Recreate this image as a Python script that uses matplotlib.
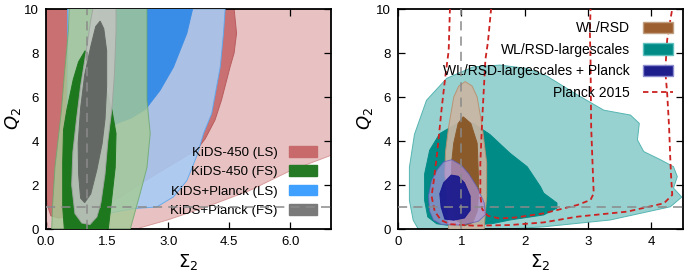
import numpy as np
import matplotlib
matplotlib.use("Agg")
import matplotlib.pyplot as plt
from matplotlib.patches import Rectangle
from matplotlib.lines import Line2D

plt.rcParams['font.family'] = ['Liberation Sans', 'DejaVu Sans']
plt.rcParams['mathtext.fontset'] = 'dejavusans'

# ---- left panel: KiDS contours, (Sigma2, Q2) outline points
kids_ls_95 = [(-1, 12), (8, 12), (8, 3.5), (7.0, 3.35), (6.0, 2.65), (5.0, 1.75), (4.0, 1.05),
              (3.0, 0.42), (2.3, 0.05), (2.1, -0.3), (0.1, -0.3), (0.05, 0.1), (0.0, 0.5), (-1, 0.5)]
kids_ls_68 = [(-1, 11), (4.62, 11), (4.62, 10), (4.68, 8.9), (4.62, 8.0), (4.52, 7.36), (4.31, 5.86),
              (4.15, 4.95), (3.91, 4.1), (3.7, 3.6), (2.47, 2.23), (1.6, 1.2), (1.0, 0.6), (0.3, 0.5),
              (0.12, 0.6), (0.05, 1.0), (0.0, 1.5), (-1, 1.5)]
kids_fs_95 = [(0.59, 11), (2.48, 11), (2.48, 5.86), (2.56, 4.34), (2.48, 2.8), (2.31, 1.6),
              (2.07, 0.0), (2.05, -0.5), (0.14, -0.5), (0.14, 0.0), (0.16, 1.0), (0.22, 2.8),
              (0.38, 5.4), (0.45, 7.0), (0.55, 9.0)]
kids_fs_68 = [(0.96, 8.1), (0.8, 7.6), (0.67, 6.8), (0.51, 5.4), (0.43, 4.5), (0.41, 3.0), (0.41, 1.0),
              (0.45, 0.0), (0.45, -0.5), (1.55, -0.5), (1.53, 0.0), (1.61, 1.3), (1.70, 2.8),
              (1.72, 4.34), (1.62, 5.4), (1.45, 6.6), (1.2, 7.6)]
kp_ls_95 = [(0.53, 11), (4.40, 11), (4.40, 10), (4.36, 8.9), (4.28, 7.37), (4.07, 5.25), (3.87, 4.34),
            (3.7, 3.3), (3.46, 2.2), (3.13, 1.46), (2.72, 1.0), (2.15, 0.93), (1.49, 0.7), (1.16, 0.4),
            (0.88, 0.17), (0.72, 0.5), (0.63, 1.3), (0.51, 4.3), (0.53, 8.0)]
kp_ls_68 = [(1.3, 11), (3.62, 11), (3.6, 10), (3.46, 8.9), (3.13, 7.36), (2.8, 6.3), (2.55, 5.7),
            (2.45, 5.45), (2.1, 5.05), (1.74, 4.8), (1.4, 4.3), (1.3, 4.3)]
kp_fs_95 = [(0.71, 0.7), (0.63, 2.0), (0.66, 3.5), (0.75, 5.0), (0.85, 6.5), (0.98, 8.0), (1.1, 9.5),
            (1.2, 10.5), (1.45, 11), (1.72, 10.5), (1.72, 9.0), (1.68, 7.0), (1.62, 5.5),
            (1.52, 4.0), (1.45, 2.5), (1.35, 1.2), (1.25, 0.55), (1.08, 0.2), (0.88, 0.27)]
kp_fs_68 = [(1.33, 9.45), (1.42, 9.1), (1.49, 8.1), (1.49, 6.5), (1.45, 5.0), (1.38, 3.9), (1.25, 2.7),
            (1.1, 1.6), (0.95, 1.2), (0.85, 1.4), (0.8, 2.5), (0.79, 3.9), (0.85, 5.5), (0.95, 7.0),
            (1.1, 8.3), (1.22, 9.2)]

left_labels = ['KiDS-450 (LS)', 'KiDS-450 (FS)', 'KiDS+Planck (LS)', 'KiDS+Planck (FS)']
left_xticks = [0.0, 1.5, 3.0, 4.5, 6.0]

# ---- right panel
lg_95 = [(0.32, -0.5), (0.32, 0.0), (0.24, 0.4), (0.18, 1.3), (0.18, 2.8), (0.26, 4.3), (0.45, 5.85),
         (0.77, 6.85), (1.19, 7.37), (1.61, 7.45), (2.03, 7.3), (2.35, 6.95), (2.83, 6.1),
         (3.25, 5.4), (3.67, 5.18), (3.81, 4.8), (3.78, 4.05), (3.88, 3.52), (4.15, 3.14),
         (4.35, 2.83), (4.41, 2.38), (4.35, 1.86), (4.48, 1.45), (4.30, 1.01), (3.35, 0.41),
         (2.30, 0.1), (1.72, 0.0), (1.72, -0.5)]
lg_68 = [(1.0, 4.9), (0.66, 4.34), (0.5, 3.58), (0.42, 2.5), (0.42, 1.3), (0.47, 0.55), (0.61, 0.24),
         (0.92, 0.12), (1.5, 0.25), (1.77, 0.41), (2.30, 0.64), (2.51, 0.95), (2.51, 1.18),
         (2.30, 1.63), (2.25, 1.92), (2.04, 2.83), (1.77, 3.44), (1.45, 4.3), (1.19, 4.8)]
wl_95 = [(1.06, 6.7), (0.96, 6.5), (0.88, 6.0), (0.80, 4.65), (0.75, 3.5), (0.74, 2.5), (0.77, 1.5),
         (0.80, 0.0), (0.81, -0.5), (1.34, -0.5), (1.36, 0.0), (1.40, 1.5), (1.40, 3.0),
         (1.33, 4.65), (1.25, 6.0), (1.17, 6.5)]
wl_68 = [(1.03, 5.1), (0.95, 4.8), (0.88, 3.9), (0.85, 3.1), (0.84, 2.0), (0.86, 1.0), (0.92, 0.4),
         (1.05, 0.15), (1.18, 0.3), (1.25, 0.8), (1.27, 1.5), (1.27, 2.4), (1.25, 3.9), (1.15, 4.8)]
lgp_95 = [(0.85, 3.15), (0.72, 3.05), (0.62, 2.7), (0.53, 2.2), (0.48, 1.5), (0.5, 0.8), (0.56, 0.41),
          (0.69, 0.2), (1.01, 0.18), (1.27, 0.35), (1.38, 0.65), (1.36, 1.2), (1.25, 1.9),
          (1.12, 2.5), (1.0, 2.9)]
lgp_68 = [(0.84, 2.45), (0.72, 2.1), (0.66, 1.6), (0.68, 1.0), (0.74, 0.45), (0.88, 0.4), (1.05, 0.5),
          (1.14, 0.85), (1.14, 1.5), (1.05, 2.1), (0.95, 2.4)]
planck_68 = [(1.47, 10.5), (1.47, 10), (1.42, 8.5), (1.38, 7.7), (1.33, 5.0), (1.30, 3.0), (1.30, 1.5),
             (1.33, 0.9), (1.42, 0.6), (1.6, 0.48), (1.85, 0.52), (2.3, 0.71), (2.83, 1.09),
             (3.04, 1.32), (3.09, 1.62), (3.07, 3.1), (3.05, 4.65), (3.04, 7.7), (3.03, 8.9),
             (3.04, 10), (3.04, 10.5)]
planck_95 = [(0.82, 10.5), (0.82, 10), (0.80, 8.1), (0.75, 7.0), (0.69, 5.5), (0.62, 3.5), (0.57, 2.3),
             (0.53, 1.5), (0.58, 0.8), (0.68, 0.4), (0.82, 0.22), (1.2, 0.15), (1.77, 0.18),
             (2.3, 0.3), (2.83, 0.56), (3.62, 0.79), (4.2, 1.17), (4.33, 1.55), (4.31, 2.5),
             (4.30, 3.14), (4.28, 4.65), (4.25, 6.17), (4.22, 7.2), (4.25, 8.6), (4.30, 9.5),
             (4.33, 10), (4.33, 10.5)]

right_labels = ['WL/RSD', 'WL/RSD-largescales', 'WL/RSD-largescales + Planck', 'Planck 2015']
right_xticks = [0, 1, 2, 3, 4]

sigma_gr = 1.0
q_gr = 1.0


def fill(ax, pts, fc, ec, alpha=1.0, z=1):
    pts = np.array(pts)
    ax.fill(pts[:, 0], pts[:, 1], facecolor=fc, edgecolor=ec, lw=0.7, alpha=alpha, zorder=z)


def style(ax, xlim, xticks, fmt):
    ax.set_xlim(*xlim)
    ax.set_ylim(0, 10)
    ax.set_xticks(xticks)
    ax.set_xticklabels([fmt % t for t in xticks])
    ax.set_yticks([0, 2, 4, 6, 8, 10])
    ax.tick_params(direction='in', top=True, right=True, length=5, width=0.9,
                   labelsize=9.5, pad=5)
    for s in ax.spines.values():
        s.set_linewidth(1.3)
    ax.set_xlabel(r'$\Sigma_2$', fontsize=13, labelpad=3)
    ax.set_ylabel(r'$Q_2$', fontsize=13, labelpad=1)
    ax.axvline(sigma_gr, color='#8a8a8a', lw=1.1, dashes=(6, 4), zorder=20)
    ax.axhline(q_gr, color='#8a8a8a', lw=1.1, dashes=(6, 4), zorder=20)


fig = plt.figure(figsize=(6.85, 2.73), dpi=100)
ax1 = fig.add_axes([46 / 685, 44 / 273, 285 / 685, 220 / 273])
ax2 = fig.add_axes([398 / 685, 44 / 273, 285 / 685, 220 / 273])

# left
fill(ax1, kids_ls_95, '#e8c2c2', '#d89a9a', z=1)
fill(ax1, kids_ls_68, '#c87072', '#b85c5e', z=2)
fill(ax1, kp_ls_95, '#a8ccf6', '#5aa8f0', alpha=0.88, z=3)
fill(ax1, kp_ls_68, '#3a8de6', '#3a8de6', z=4)
fill(ax1, kids_fs_95, '#a4c994', '#6aa86a', alpha=0.8, z=5)
fill(ax1, kids_fs_68, '#1e781e', '#1e781e', z=6)
fill(ax1, kp_fs_95, '#bec3be', '#a0a5a0', alpha=0.92, z=7)
fill(ax1, kp_fs_68, '#646864', '#646864', z=8)
style(ax1, (0, 7), left_xticks, '%.1f')

h1 = [Rectangle((0, 0), 1, 1, fc='#c86a6c', ec='#c86a6c'),
      Rectangle((0, 0), 1, 1, fc='#267a26', ec='#267a26'),
      Rectangle((0, 0), 1, 1, fc='#3fa0ff', ec='#3fa0ff'),
      Rectangle((0, 0), 1, 1, fc='#7a7a7a', ec='#7a7a7a')]
leg1 = ax1.legend(h1, left_labels, loc='lower right', bbox_to_anchor=(0.97, 0.03),
                  frameon=False, markerfirst=False, fontsize=9.5, handlelength=2.1,
                  handleheight=0.85, labelspacing=0.5, handletextpad=0.9, borderaxespad=0)
leg1.set_zorder(15)

# right
fill(ax2, lg_95, '#98d2d0', '#55b5b2', z=1)
fill(ax2, lg_68, '#008b87', '#008b87', z=2)
fill(ax2, wl_95, '#cbb6a3', '#b89070', alpha=0.92, z=3)
fill(ax2, wl_68, '#8b5a2b', '#8b5a2b', z=4)
fill(ax2, lgp_95, '#aa92da', '#5a5ab8', alpha=0.7, z=5)
fill(ax2, lgp_68, '#14148c', '#14148c', alpha=0.9, z=6)
for c in (planck_68, planck_95):
    c = np.array(c)
    ax2.plot(c[:, 0], c[:, 1], color='#cc2222', lw=1.3, dashes=(3, 2), zorder=10)
style(ax2, (0, 4.5), right_xticks, '%d')

h2 = [Rectangle((0, 0), 1, 1, fc='#9c5f30', ec='#c0a080'),
      Rectangle((0, 0), 1, 1, fc='#008b87', ec='#5fc0bd'),
      Rectangle((0, 0), 1, 1, fc='#1e1e8c', ec='#8c8cd0'),
      Line2D([], [], color='#cc2222', lw=1.3, dashes=(3, 2))]
leg2 = ax2.legend(h2, right_labels, loc='upper right', bbox_to_anchor=(0.985, 0.97),
                  frameon=False, markerfirst=False, fontsize=10, handlelength=2.2,
                  handleheight=0.9, labelspacing=0.55, handletextpad=0.9, borderaxespad=0)
leg2.set_zorder(15)

fig.savefig('out.png', dpi=100)
